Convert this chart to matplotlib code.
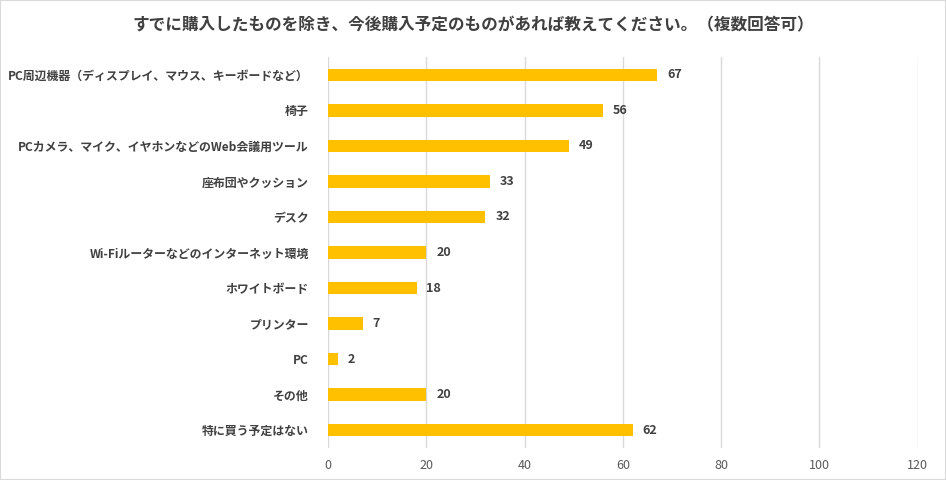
import matplotlib
matplotlib.use("Agg")
import matplotlib.pyplot as plt

plt.rcParams['font.family'] = ['Noto Sans CJK JP', 'DejaVu Sans']

labels = ["PC周辺機器（ディスプレイ、マウス、キーボードなど）", "椅子",
          "PCカメラ、マイク、イヤホンなどのWeb会議用ツール", "座布団やクッション",
          "デスク", "Wi-Fiルーターなどのインターネット環境", "ホワイトボード",
          "プリンター", "PC", "その他", "特に買う予定はない"]
values = [67, 56, 49, 33, 32, 20, 18, 7, 2, 20, 62]
title = "すでに購入したものを除き、今後購入予定のものがあれば教えてください。（複数回答可）"

fig = plt.figure(figsize=(9.46, 4.8), dpi=100)
ax = fig.add_axes([0.347, 0.067, 0.623, 0.814])

y = list(range(len(labels)))
ax.barh(y, values, height=0.35, color="#FFC000", zorder=3)
for yi, v in zip(y, values):
    ax.text(v + 2, yi, str(v), va="center", ha="left", fontsize=9,
            fontweight="bold", color="#404040")

ax.set_yticks(y)
ax.set_yticklabels(labels, fontsize=8.6, fontweight="bold", color="#404040")
ax.set_ylim(len(labels) - 0.5, -0.5)
ax.set_xlim(0, 120)
ax.set_xticks(range(0, 121, 20))
ax.tick_params(axis="x", labelsize=9, colors="#595959", length=0, pad=8)
ax.tick_params(axis="y", length=0, pad=14)
ax.grid(axis="x", color="#D9D9D9", linewidth=1, zorder=0)
for s in ax.spines.values():
    s.set_visible(False)

fig.text(0.5, 0.948, title, ha="center", va="center", fontsize=12,
         fontweight="bold", color="#404040")

fig.patches.append(plt.Rectangle((0, 0), 1, 1, transform=fig.transFigure,
                                 fill=False, edgecolor="#D9D9D9", linewidth=1.5))

fig.savefig("out.png", dpi=100)
